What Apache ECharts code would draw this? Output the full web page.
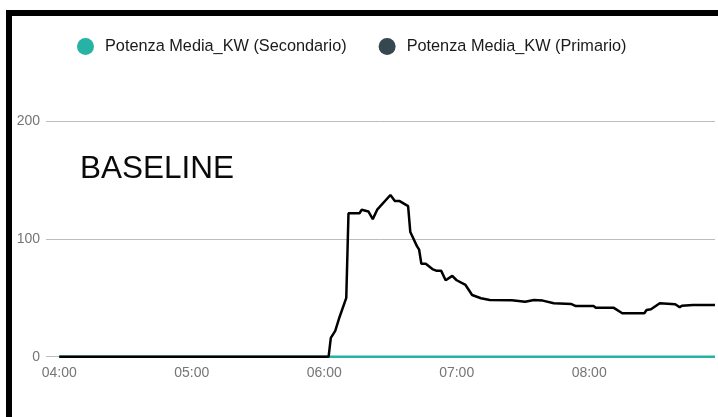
<!DOCTYPE html>
<html>
<head>
<meta charset="utf-8">
<script src="https://cdn.jsdelivr.net/npm/echarts@6/dist/echarts.min.js"></script>
<style>
  html, body { margin: 0; padding: 0; background: #fff; }
  #chart { width: 718px; height: 417px; }
</style>
</head>
<body>
<div id="chart"></div>
<script>
// orari (HH:MM) e potenza media kW
var primTimes = ['04:00', '06:02', '06:03', '06:05', '06:07', '06:10', '06:11', '06:16', '06:17', '06:20',
    '06:22', '06:24', '06:30', '06:32', '06:34', '06:38', '06:39', '06:42', '06:43', '06:44',
    '06:46', '06:49', '06:51', '06:53', '06:55', '06:58', '07:00', '07:04', '07:07', '07:11',
    '07:15', '07:25', '07:31', '07:35', '07:39', '07:44', '07:52', '07:54', '08:02', '08:03',
    '08:11', '08:15', '08:25', '08:26', '08:28', '08:32', '08:39', '08:41', '08:42', '08:47', '08:57'];
var primValues = [0, 0, 16, 22, 34, 50, 122, 122, 125, 123.5,
    117, 125, 137.5, 132.5, 132.5, 128, 106, 94, 91, 79,
    79, 74.5, 73, 73, 65, 68.7, 65, 61, 52.5, 49.7,
    48.3, 48, 46.8, 48.3, 47.7, 45.4, 44.8, 43.1, 43.1, 41.7,
    41.7, 37, 37, 39.7, 40.3, 45.4, 44.6, 42, 43.4, 44, 44];

var secTimes = ['04:00', '08:57'];
var secValues = [0, 0];

var hourTicks = ['04:00', '05:00', '06:00', '07:00', '08:00'];
var yTicks = [0, 100, 200];

var seriesNames = ['Potenza Media_KW (Secondario)', 'Potenza Media_KW (Primario)'];

var FONT = "'Liberation Sans', Arial, sans-serif";

// minuti dalle 04:00
function toMin(t) {
    var p = t.split(':');
    return (+p[0] - 4) * 60 + (+p[1]);
}
function fmt(m) {
    var h = 4 + Math.floor(m / 60);
    var mm = m % 60;
    return (h < 10 ? '0' : '') + h + ':' + (mm < 10 ? '0' : '') + mm;
}
function pairs(times, vals) {
    var out = [];
    for (var i = 0; i < times.length; i++) {
        out.push([toMin(times[i]), vals[i]]);
    }
    return out;
}

var chart = echarts.init(document.getElementById('chart'));

var option = {
    animation: false,
    textStyle: { fontFamily: FONT },
    legend: {
        left: 72,
        top: 33,
        icon: 'circle',
        itemWidth: 17,
        itemHeight: 17,
        itemGap: 32,
        data: seriesNames,
        textStyle: {
            color: '#1a1a1a',
            fontFamily: FONT,
            fontSize: 16.3,
            padding: [0, 0, 0, 6]
        }
    },
    graphic: [
        { type: 'rect', shape: { x: 6, y: 10, width: 712, height: 6 }, style: { fill: '#000' } },
        { type: 'rect', shape: { x: 6, y: 10, width: 6, height: 407 }, style: { fill: '#000' } },
        {
            type: 'text', left: 80, top: 153,
            style: { text: 'BASELINE', fill: '#0a0a0a', font: "31.5px 'Liberation Sans', Arial, sans-serif" }
        }
    ],
    grid: {
        left: 46,
        right: 3,
        top: 121.5,
        bottom: 60.3,
        containLabel: false
    },
    xAxis: {
        type: 'value',
        min: -6,
        max: toMin('08:57'),
        axisLine: { show: false },
        axisTick: { show: false },
        splitLine: { show: false },
        axisLabel: {
            customValues: hourTicks.map(toMin),
            formatter: function (v) { return fmt(v); },
            color: '#757575',
            fontFamily: FONT,
            fontSize: 14,
            margin: 9
        }
    },
    yAxis: {
        type: 'value',
        min: yTicks[0],
        max: yTicks[yTicks.length - 1],
        interval: 100,
        axisLine: { show: false },
        axisTick: { show: false },
        axisLabel: { color: '#757575', fontFamily: FONT, fontSize: 14, margin: 6 },
        splitLine: { lineStyle: { color: '#bdbdbd', width: 1 } }
    },
    series: [
        {
            name: seriesNames[0],
            type: 'line',
            symbol: 'none',
            itemStyle: { color: '#26b3a5' },
            lineStyle: { color: '#26b3a5', width: 2.5 },
            data: pairs(secTimes, secValues)
        },
        {
            name: seriesNames[1],
            type: 'line',
            symbol: 'none',
            itemStyle: { color: '#37474f' },
            lineStyle: { color: '#000', width: 2.5 },
            data: pairs(primTimes, primValues)
        }
    ]
};

chart.setOption(option);
</script>
</body>
</html>
